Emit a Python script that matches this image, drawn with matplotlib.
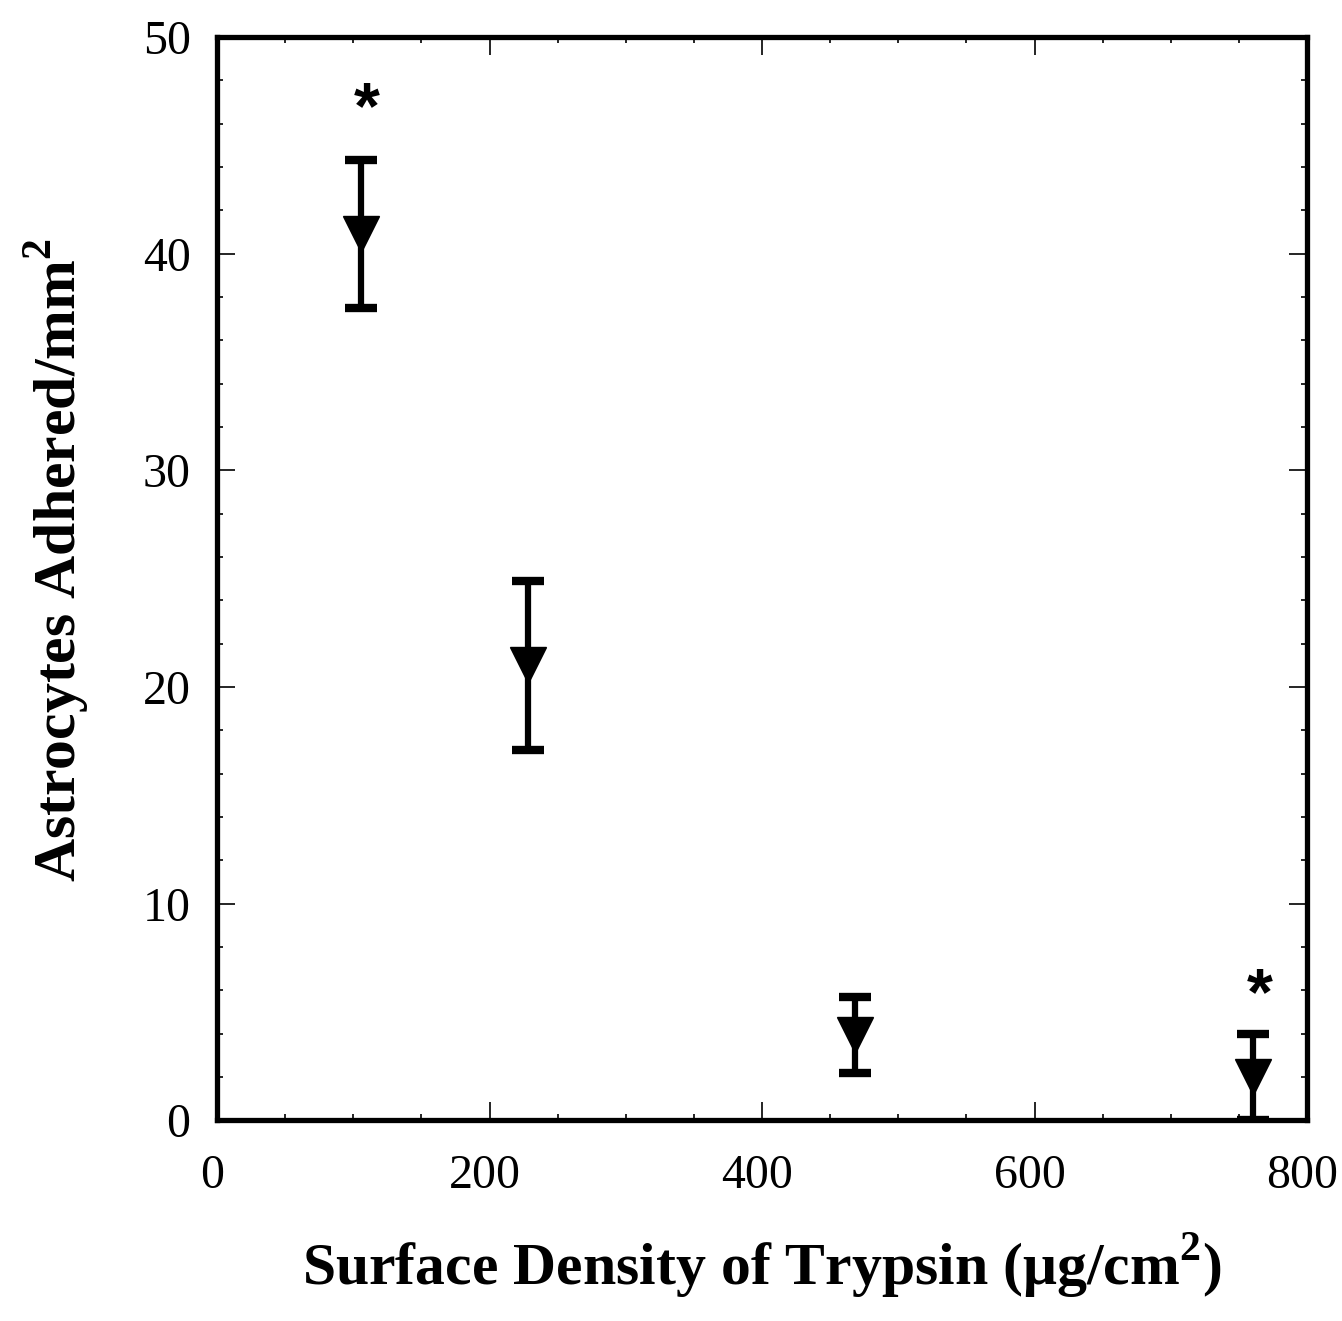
import matplotlib
matplotlib.use('Agg')
import matplotlib.pyplot as plt
import matplotlib.transforms as mtransforms
from matplotlib.ticker import MultipleLocator

# data
density = [106, 228, 468, 760]          # ug/cm^2
adhered = [40.9, 21.0, 3.95, 2.0]       # cells/mm^2
err = [3.4, 3.9, 1.75, 2.0]
star_x = [110, 765]
star_y = [46.6, 5.7]

plt.rcParams['font.family'] = ['Liberation Serif', 'DejaVu Serif']
plt.rcParams['mathtext.fontset'] = 'custom'
plt.rcParams['mathtext.rm'] = 'Liberation Serif'
plt.rcParams['mathtext.bf'] = 'Liberation Serif:bold'

fig = plt.figure(figsize=(13.42, 13.21), dpi=100)
ax = fig.add_axes([0.1617, 0.152, 0.8123, 0.820])

ax.errorbar(density, adhered, yerr=err, fmt='v', color='black', ms=26,
            elinewidth=4.5, capsize=11.5, capthick=6)

for sx, sy in zip(star_x, star_y):
    ax.text(sx, sy, '*', ha='center', va='center', fontsize=48, fontweight='bold',
            family='Liberation Sans')

ax.set_xlim(0, 800)
ax.set_ylim(0, 50)
ax.xaxis.set_major_locator(MultipleLocator(200))
ax.xaxis.set_minor_locator(MultipleLocator(50))
ax.yaxis.set_major_locator(MultipleLocator(10))
ax.yaxis.set_minor_locator(MultipleLocator(2))
ax.tick_params(which='both', direction='in', top=True, right=True, width=1.2)
ax.tick_params(which='major', length=13, labelsize=34.5)
ax.tick_params(axis='x', which='major', pad=24)
ax.tick_params(axis='y', which='major', pad=19)
ax.tick_params(which='minor', length=4.5)
for s in ax.spines.values():
    s.set_linewidth(3.8)

# tick labels in the reference sit a few px left of their ticks
shift = mtransforms.ScaledTranslation(-5 / 100, 0, fig.dpi_scale_trans)
for lab in ax.get_xticklabels():
    lab.set_transform(lab.get_transform() + shift)

ax.set_xlabel(r'Surface Density of Trypsin ($\mathbf{\mu}$g/cm$^{\mathbf{2}}$)',
              fontsize=43, fontweight='bold', labelpad=24)
ax.set_ylabel(r'Astrocytes Adhered/mm$^{\mathbf{2}}$', fontsize=43,
              fontweight='bold', labelpad=37)
ax.yaxis.label.set_y(0.517)

fig.savefig('out.png', dpi=100)
